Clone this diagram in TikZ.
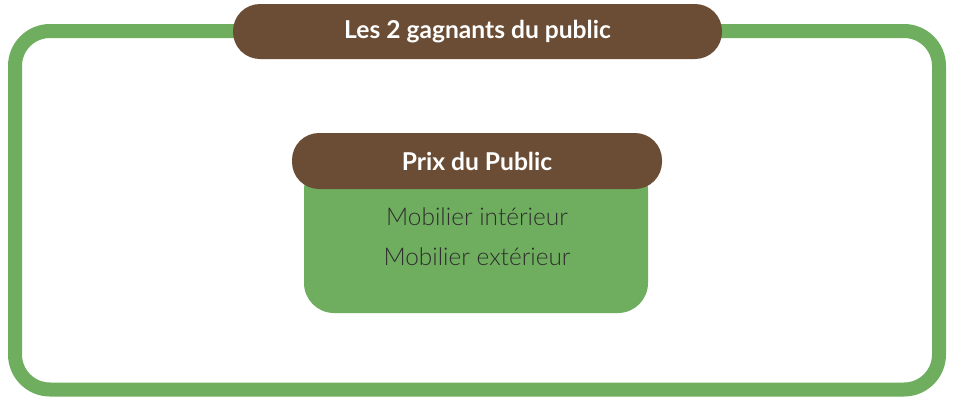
\documentclass[tikz,border=0pt]{standalone}
\usepackage{fontspec}
\setmainfont{Lato}[UprightFont=* Light, BoldFont=* Bold]
\definecolor{frameGreen}{HTML}{6FAE5F}
\definecolor{barBrown}{HTML}{6B4D35}
\definecolor{bodyText}{HTML}{2E2E2E}
\tikzset{
  pill/.style={fill=barBrown, text=white, rounded corners=27pt, font=\bfseries\fontsize{24.6}{28}\selectfont, inner sep=0pt},
  entry/.style={text=bodyText, font=\fontsize{24.4}{28}\selectfont, inner sep=0pt}
}
\begin{document}
\begin{tikzpicture}[x=1pt,y=-1pt]
  \useasboundingbox (0,0) rectangle (953,405);
  % outer frame
  \draw[frameGreen, line width=14pt, rounded corners=35pt] (15,31) rectangle (939,389.5);
  % green box under the inner bar
  \node[fill=frameGreen, rounded corners=30pt, minimum width=344pt, minimum height=153pt, inner sep=0pt] (box) at (476,236.5) {};
  % top title
  \node[pill, minimum width=489pt, minimum height=55pt] (title) at (477.5,31.5) {Les 2 gagnants du public};
  % inner bar
  \node[pill, minimum width=370pt, minimum height=56pt] (prix) at (477,161) {Prix du Public};
  % entries
  \node[entry] (interieur) at (477,217) {Mobilier intérieur};
  \node[entry] (exterieur) at (477,257) {Mobilier extérieur};
\end{tikzpicture}
\end{document}
